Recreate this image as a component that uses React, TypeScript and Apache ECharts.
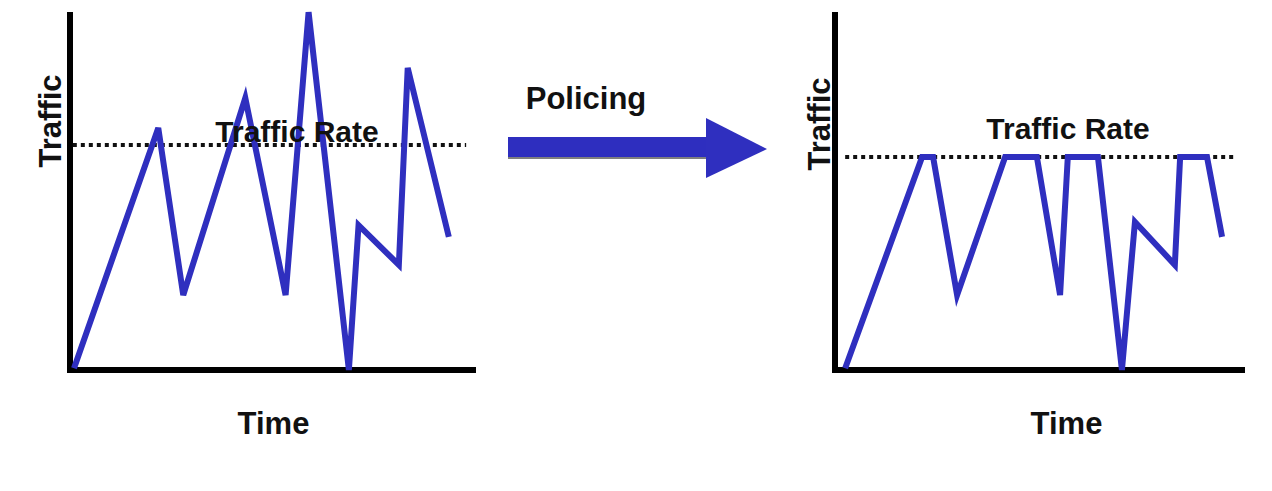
import React, { useEffect, useRef } from "react";
import * as echarts from "echarts";

// Left chart: incoming traffic (time units 0-100, traffic units 0-100)
const beforeTime = [1, 21.9, 28.1, 43.5, 53.5, 59.2, 69.2, 71.6, 81.6, 83.8, 94.0];
const beforeTraffic = [0.5, 68.2, 21.1, 76.6, 21.1, 100.8, 0, 40.8, 29.6, 85.1, 37.5];

// Right chart: policed traffic (capped at the traffic rate)
const afterTime = [2.5, 21.4, 24.1, 30.0, 41.8, 49.6, 55.3, 57.2, 64.6, 70.5, 73.7, 83.5, 84.8, 91.4, 95.1];
const afterTraffic = [0.5, 60, 60, 21.1, 60, 60, 21.1, 60, 60, 0, 41.7, 29.6, 60, 60, 37.5];

// Traffic rate reference lines
const beforeRate = 63.4;
const afterRate = 60;
const beforeRateSpan = [0.7, 98.3];
const afterRateSpan = [2.5, 98.8];

const LINE_COLOR = "#2F2FBF";
const FONT = "'Liberation Sans', Arial, sans-serif";

export default function App() {
  const ref = useRef<HTMLDivElement>(null);
  useEffect(() => {
    if (!ref.current) return;
    const chart = echarts.init(ref.current, undefined, { renderer: "svg" });

    const axisCommon = {
      type: "value" as const,
      min: 0,
      max: 100,
      axisTick: { show: false },
      axisLabel: { show: false },
      splitLine: { show: false },
      axisLine: { show: true, lineStyle: { color: "#000", width: 6, cap: "square" } },
    };
    const nameStyle = { fontFamily: FONT, fontWeight: "bold", fontSize: 31, color: "#111" };

    chart.setOption({
      animation: false,
      backgroundColor: "#fff",
      grid: [
        { left: 70, top: 15, width: 403, height: 355 },
        { left: 835, top: 15, width: 407, height: 355 },
      ],
      xAxis: [
        { ...axisCommon, gridIndex: 0, name: "Time", nameLocation: "middle", nameGap: 38, nameTextStyle: { ...nameStyle, padding: [0, 0, 0, 4] } },
        { ...axisCommon, gridIndex: 1, name: "Time", nameLocation: "middle", nameGap: 38, nameTextStyle: { ...nameStyle, padding: [0, 0, 0, 56] } },
      ],
      yAxis: [
        { ...axisCommon, gridIndex: 0 },
        { ...axisCommon, gridIndex: 1 },
      ],
      series: [
        {
          type: "line",
          xAxisIndex: 0,
          yAxisIndex: 0,
          data: [[beforeRateSpan[0], beforeRate], [beforeRateSpan[1], beforeRate]],
          symbol: "none",
          lineStyle: { color: "#111", width: 4, type: [4, 4] },
          z: 1,
        },
        {
          type: "line",
          xAxisIndex: 1,
          yAxisIndex: 1,
          data: [[afterRateSpan[0], afterRate], [afterRateSpan[1], afterRate]],
          symbol: "none",
          lineStyle: { color: "#111", width: 4, type: [4, 4] },
          z: 1,
        },
        {
          type: "line",
          xAxisIndex: 0,
          yAxisIndex: 0,
          data: beforeTime.map((t, i) => [t, beforeTraffic[i]]),
          symbol: "none",
          clip: false,
          lineStyle: { color: LINE_COLOR, width: 6, join: "miter" },
          z: 2,
        },
        {
          type: "line",
          xAxisIndex: 1,
          yAxisIndex: 1,
          data: afterTime.map((t, i) => [t, afterTraffic[i]]),
          symbol: "none",
          clip: false,
          lineStyle: { color: LINE_COLOR, width: 6, join: "miter" },
          z: 2,
        },
      ],
      graphic: [
        { type: "text", x: 50, y: 121, rotation: Math.PI / 2, style: { text: "Traffic", fill: "#111", font: `bold 31px ${FONT}`, align: "center", verticalAlign: "middle" } },
        { type: "text", x: 819, y: 124, rotation: Math.PI / 2, style: { text: "Traffic", fill: "#111", font: `bold 31px ${FONT}`, align: "center", verticalAlign: "middle" } },
        { type: "text", x: 297, y: 131, z: 3, style: { text: "Traffic Rate", fill: "#111", font: `bold 30px ${FONT}`, align: "center", verticalAlign: "middle" } },
        { type: "text", x: 1068, y: 128, style: { text: "Traffic Rate", fill: "#111", font: `bold 30px ${FONT}`, align: "center", verticalAlign: "middle" } },
        { type: "text", x: 586, y: 98, style: { text: "Policing", fill: "#111", font: `bold 31px ${FONT}`, align: "center", verticalAlign: "middle" } },
        { type: "rect", shape: { x: 508, y: 137, width: 200, height: 20 }, style: { fill: LINE_COLOR, shadowColor: "rgba(0,0,0,0.5)", shadowOffsetY: 2, shadowBlur: 1 } },
        { type: "polygon", shape: { points: [[706, 118], [767, 149], [706, 178]] }, style: { fill: LINE_COLOR } },
      ],
    });
    return () => chart.dispose();
  }, []);
  return <div ref={ref} style={{ position: "absolute", left: 0, top: 0, width: 1272, height: 491 }} />;
}
